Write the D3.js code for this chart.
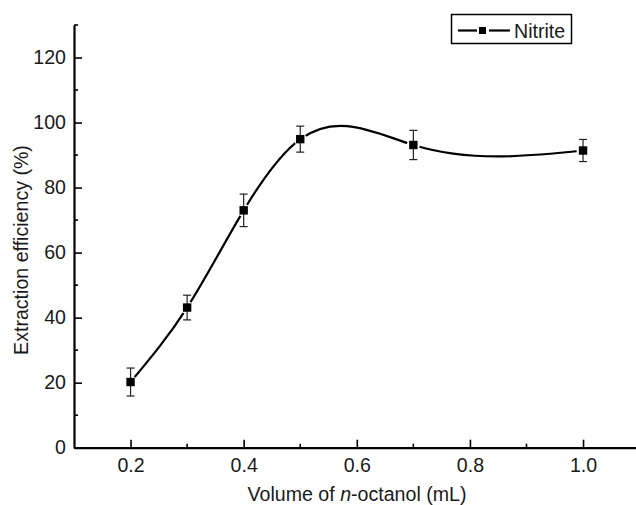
<!DOCTYPE html>
<html>
<head>
<meta charset="utf-8">
<script src="https://cdn.jsdelivr.net/npm/d3@7"></script>
<style>
  html, body { margin: 0; padding: 0; background: #fff; }
  svg { display: block; font-family: "Liberation Sans", Arial, sans-serif; }
</style>
</head>
<body>
<svg id="chart" width="636" height="505"></svg>
<script>
// Extraction efficiency of nitrite vs. volume of n-octanol
const volume = [0.2, 0.3, 0.4, 0.5, 0.7, 1.0];
const efficiency = [20.2, 43.1, 73.0, 94.9, 93.1, 91.4];
const errors = [4.3, 3.8, 5.0, 4.0, 4.5, 3.4];
const seriesName = "Nitrite";
const xTicks = [0.2, 0.4, 0.6, 0.8, 1.0];
const xMinor = [0.3, 0.5, 0.7, 0.9, 1.1];
const yTicks = [0, 20, 40, 60, 80, 100, 120];
const yMinor = [10, 30, 50, 70, 90, 110, 130];

// Natural cubic spline with x as the independent variable, emitted as
// one cubic Bezier per interval (exact for a cubic polynomial in x).
function curveSplineX(context) {
  let pts;
  return {
    areaStart() {}, areaEnd() {},
    lineStart() { pts = []; },
    point(px, py) { pts.push([+px, +py]); },
    lineEnd() {
      const n = pts.length;
      if (!n) return;
      context.moveTo(pts[0][0], pts[0][1]);
      if (n < 3) { if (n === 2) context.lineTo(pts[1][0], pts[1][1]); return; }
      const h = [], d = [];
      for (let i = 0; i < n - 1; i++) {
        h.push(pts[i + 1][0] - pts[i][0]);
        d.push((pts[i + 1][1] - pts[i][1]) / h[i]);
      }
      // Solve the tridiagonal system for second derivatives (M0 = Mn-1 = 0)
      const M = new Array(n).fill(0);
      const a = [], b = [], c = [], r = [];
      for (let i = 1; i < n - 1; i++) {
        a.push(h[i - 1]); b.push(2 * (h[i - 1] + h[i])); c.push(h[i]);
        r.push(6 * (d[i] - d[i - 1]));
      }
      const m = b.length;
      for (let i = 1; i < m; i++) {
        const w = a[i] / b[i - 1];
        b[i] -= w * c[i - 1];
        r[i] -= w * r[i - 1];
      }
      const sol = new Array(m);
      sol[m - 1] = r[m - 1] / b[m - 1];
      for (let i = m - 2; i >= 0; i--) sol[i] = (r[i] - c[i] * sol[i + 1]) / b[i];
      for (let i = 0; i < m; i++) M[i + 1] = sol[i];
      for (let i = 0; i < n - 1; i++) {
        const s0 = d[i] - h[i] * (2 * M[i] + M[i + 1]) / 6;
        const s1 = d[i] + h[i] * (M[i] + 2 * M[i + 1]) / 6;
        const [x0, y0] = pts[i], [x1, y1] = pts[i + 1];
        context.bezierCurveTo(x0 + h[i] / 3, y0 + s0 * h[i] / 3,
                              x1 - h[i] / 3, y1 - s1 * h[i] / 3, x1, y1);
      }
    }
  };
}

const svg = d3.select("#chart");
const x = d3.scaleLinear().domain([0.1, 1.1]).range([74, 639.6]);
const y = d3.scaleLinear().domain([0, 130]).range([447.7, 25]);
const FS = 19.6;
const INK = "#1a1a1a";

const data = volume.map((v, i) => ({ v, e: efficiency[i], err: errors[i] }));

// Smooth curve through the points
const line = d3.line().x(d => x(d.v)).y(d => y(d.e)).curve(curveSplineX);
svg.append("path").datum(data)
  .attr("d", line).attr("fill", "none")
  .attr("stroke", "#000").attr("stroke-width", 2.2);

// White halos leave a gap between the curve and each symbol
svg.append("g").selectAll("circle").data(data).join("circle")
  .attr("cx", d => x(d.v)).attr("cy", d => y(d.e)).attr("r", 6.5)
  .attr("fill", "#fff");

// Error bars
const eb = svg.append("g").attr("stroke", "#222").attr("stroke-width", 1.2);
data.forEach(d => {
  const cx = x(d.v), y1 = y(d.e + d.err), y2 = y(d.e - d.err);
  eb.append("line").attr("x1", cx).attr("x2", cx).attr("y1", y1).attr("y2", y2);
  eb.append("line").attr("x1", cx - 4).attr("x2", cx + 4).attr("y1", y1).attr("y2", y1);
  eb.append("line").attr("x1", cx - 4).attr("x2", cx + 4).attr("y1", y2).attr("y2", y2);
});

// Square symbols
svg.append("g").selectAll("rect").data(data).join("rect")
  .attr("x", d => x(d.v) - 4.2).attr("y", d => y(d.e) - 4.2)
  .attr("width", 8.4).attr("height", 8.4).attr("fill", "#000");

// Axes with inward ticks
const xAxis = svg.append("g").attr("transform", `translate(0,${y(0)})`)
  .call(d3.axisBottom(x).tickValues(xTicks).tickFormat(d3.format(".1f"))
    .tickSizeInner(-8).tickSizeOuter(0).tickPadding(10));
xAxis.append("g").selectAll("line").data(xMinor).join("line")
  .attr("x1", d => x(d)).attr("x2", d => x(d)).attr("y1", 0).attr("y2", -4)
  .attr("stroke", "#000").attr("stroke-width", 1.6);

const yAxis = svg.append("g").attr("transform", `translate(${x(0.1)},0)`)
  .call(d3.axisLeft(y).tickValues(yTicks)
    .tickSizeInner(-8).tickSizeOuter(0).tickPadding(8));
yAxis.append("g").selectAll("line").data(yMinor).join("line")
  .attr("x1", 0).attr("x2", 4).attr("y1", d => y(d)).attr("y2", d => y(d))
  .attr("stroke", "#000").attr("stroke-width", 1.6);

[xAxis, yAxis].forEach(g => {
  g.select(".domain").attr("stroke", "#000").attr("stroke-width", 2.2);
  g.selectAll(".tick line").attr("stroke", "#000").attr("stroke-width", 1.6);
  g.selectAll(".tick text").attr("fill", INK).style("font-size", FS + "px")
    .style("font-family", "'Liberation Sans', Arial, sans-serif");
});

// Axis titles
const xt = svg.append("text").attr("x", 357).attr("y", 501)
  .attr("text-anchor", "middle").attr("fill", INK).style("font-size", FS + "px");
xt.append("tspan").text("Volume of ");
xt.append("tspan").attr("font-style", "italic").text("n");
xt.append("tspan").text("-octanol (mL)");

svg.append("text")
  .attr("transform", "translate(28,250) rotate(-90)")
  .attr("text-anchor", "middle").attr("fill", INK).style("font-size", FS + "px")
  .text("Extraction efficiency (%)");

// Legend
const lg = svg.append("g");
lg.append("rect").attr("x", 451.5).attr("y", 14.5).attr("width", 120).attr("height", 29)
  .attr("fill", "#fff").attr("stroke", "#000").attr("stroke-width", 1.5);
lg.append("line").attr("x1", 458).attr("x2", 477).attr("y1", 30.5).attr("y2", 30.5)
  .attr("stroke", "#000").attr("stroke-width", 2.2);
lg.append("line").attr("x1", 489).attr("x2", 510).attr("y1", 30.5).attr("y2", 30.5)
  .attr("stroke", "#000").attr("stroke-width", 2.2);
lg.append("rect").attr("x", 479).attr("y", 27).attr("width", 7).attr("height", 7).attr("fill", "#000");
lg.append("text").attr("x", 514).attr("y", 37.5).attr("fill", INK)
  .style("font-size", FS + "px").text(seriesName);
</script>
</body>
</html>
